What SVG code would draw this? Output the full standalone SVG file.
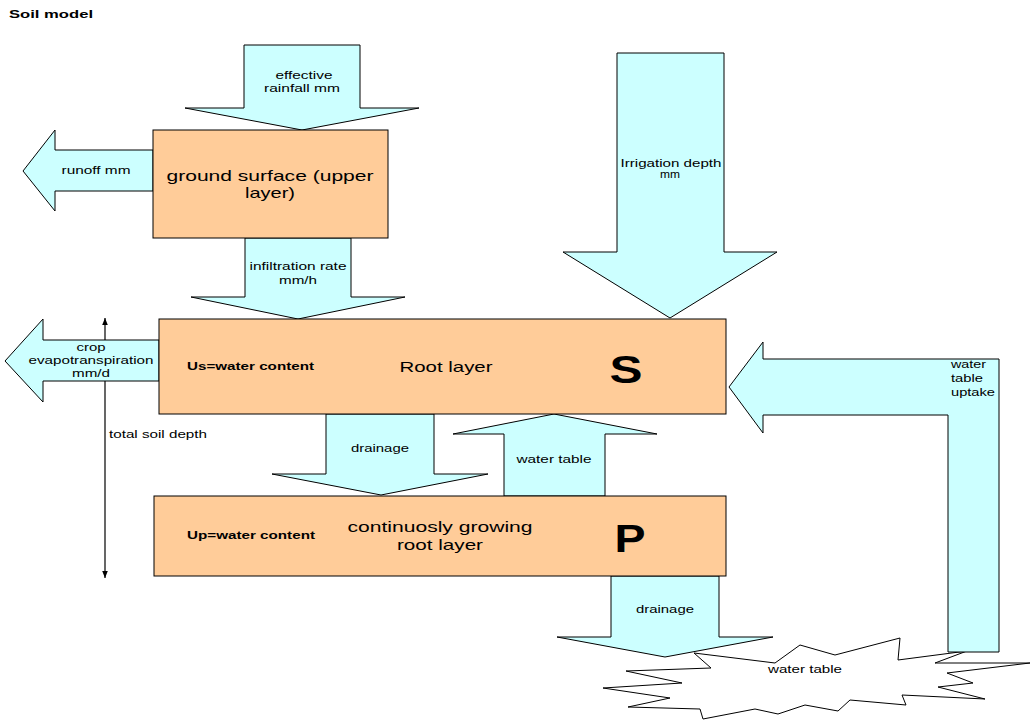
<svg xmlns="http://www.w3.org/2000/svg" width="1031" height="720" viewBox="0 0 1031 720">
<defs>
<style>
.arr{fill:#CCFFFF;stroke:#000;stroke-width:1}
.box{fill:#FFCC99;stroke:#000;stroke-width:1}
.burst{fill:#FFFFFF;stroke:#000;stroke-width:1}
text{font-family:"Liberation Sans",Arial,sans-serif;fill:#000}
.s{font-size:11px}
.m{font-size:15px}
.b{font-size:10px;font-weight:bold}
.L{font-size:38px;font-weight:bold}
.c{text-anchor:middle}
</style>
<marker id="ah" viewBox="0 0 10 10" refX="10" refY="5" markerWidth="7" markerHeight="7" orient="auto-start-reverse" markerUnits="userSpaceOnUse">
<path d="M0,1 L10,5 L0,9 z" fill="#000"/>
</marker>
</defs>
<rect width="1031" height="720" fill="#fff"/>
<text class="b" x="9" y="18" textLength="84" lengthAdjust="spacingAndGlyphs">Soil model</text>

<g id="depth-line">
<line x1="105" y1="318" x2="105" y2="578" stroke="#000" stroke-width="1.2" marker-start="url(#ah)" marker-end="url(#ah)"/>
<text class="s" x="109" y="438" textLength="98" lengthAdjust="spacingAndGlyphs">total soil depth</text>
</g>

<g id="water-table-burst">
<polygon class="burst" points="694,653 711,668 626,671 682,683 603,688 670,698 628,707 700,709 703,719 755,709 778,714 805,705 838,711 850,700 906,705 902,695 985,699 938,687 973,683 947,673 1030,663 935,663 967,651 898,660 900,638 835,655 800,645 775,663"/>
<text class="s c" x="805" y="673" textLength="74" lengthAdjust="spacingAndGlyphs">water table</text>
</g>

<g id="connectors">
<g id="rainfall">
<polygon class="arr" points="244,45 360,45 360,108 419,108 302,130 185,108 244,108"/>
<text class="s c" x="304" y="79" textLength="57" lengthAdjust="spacingAndGlyphs">effective</text>
<text class="s c" x="302" y="92" textLength="76" lengthAdjust="spacingAndGlyphs">rainfall mm</text>
</g>
<g id="runoff">
<polygon class="arr" points="153,150 55,150 55,130 23,171 55,211 55,191 153,191"/>
<text class="s c" x="96" y="174" textLength="69" lengthAdjust="spacingAndGlyphs">runoff mm</text>
</g>
<g id="infiltration">
<polygon class="arr" points="245,238 351,238 351,297 405,297 298,319 191,297 245,297"/>
<text class="s c" x="298" y="270" textLength="97" lengthAdjust="spacingAndGlyphs">infiltration rate</text>
<text class="s c" x="298" y="284" textLength="38" lengthAdjust="spacingAndGlyphs">mm/h</text>
</g>
<g id="evapotranspiration">
<polygon class="arr" points="159,340 43,340 43,319 5,361 43,402 43,381 159,381"/>
<text class="s c" x="91" y="351" textLength="29" lengthAdjust="spacingAndGlyphs">crop</text>
<text class="s c" x="91" y="364" textLength="125" lengthAdjust="spacingAndGlyphs">evapotranspiration</text>
<text class="s c" x="91" y="377" textLength="38" lengthAdjust="spacingAndGlyphs">mm/d</text>
</g>
<g id="irrigation">
<polygon class="arr" points="617,53 724,53 724,252 777,252 670,318 563,252 617,252"/>
<text class="s c" x="671" y="167" textLength="101" lengthAdjust="spacingAndGlyphs">Irrigation depth</text>
<text class="s c" x="670" y="178" textLength="20" lengthAdjust="spacingAndGlyphs">mm</text>
</g>
<g id="drainage-upper">
<polygon class="arr" points="326,414 434,414 434,474 488,474 381,495 272,474 326,474"/>
<text class="s c" x="380" y="452" textLength="58" lengthAdjust="spacingAndGlyphs">drainage</text>
</g>
<g id="water-table-rise">
<polygon class="arr" points="504,496 504,434 453,434 554,414 657,434 605,434 605,496"/>
<text class="s c" x="554" y="463" textLength="75" lengthAdjust="spacingAndGlyphs">water table</text>
</g>
<g id="drainage-lower">
<polygon class="arr" points="611,576 719,576 719,637 773,637 665,657 557,637 611,637"/>
<text class="s c" x="665" y="613" textLength="58" lengthAdjust="spacingAndGlyphs">drainage</text>
</g>
<g id="uptake">
<polygon class="arr" points="729,387 763,342 763,359 999,359 999,652 948,652 948,415 763,415 763,433"/>
<text class="s" x="951" y="368" textLength="35" lengthAdjust="spacingAndGlyphs">water</text>
<text class="s" x="951" y="382" textLength="32" lengthAdjust="spacingAndGlyphs">table</text>
<text class="s" x="951" y="396" textLength="44" lengthAdjust="spacingAndGlyphs">uptake</text>
</g>
</g>

<g id="ground-surface">
<rect class="box" x="153" y="130" width="235" height="108"/>
<text class="m c" x="270" y="181" textLength="207" lengthAdjust="spacingAndGlyphs">ground surface (upper</text>
<text class="m c" x="270" y="198" textLength="50" lengthAdjust="spacingAndGlyphs">layer)</text>
</g>

<g id="root-layer">
<rect class="box" x="159" y="319" width="567" height="95"/>
<text class="b" x="187" y="370" textLength="127" lengthAdjust="spacingAndGlyphs">Us=water content</text>
<text class="m c" x="446" y="372" textLength="93" lengthAdjust="spacingAndGlyphs">Root layer</text>
<text class="L c" x="626" y="383" textLength="33" lengthAdjust="spacingAndGlyphs">S</text>
</g>

<g id="growing-root-layer">
<rect class="box" x="154" y="496" width="572" height="80"/>
<text class="b" x="187" y="539" textLength="128" lengthAdjust="spacingAndGlyphs">Up=water content</text>
<text class="m c" x="440" y="532" textLength="185" lengthAdjust="spacingAndGlyphs">continuosly growing</text>
<text class="m c" x="440" y="550" textLength="86" lengthAdjust="spacingAndGlyphs">root layer</text>
<text class="L c" x="630" y="552" textLength="31" lengthAdjust="spacingAndGlyphs">P</text>
</g>
</svg>
